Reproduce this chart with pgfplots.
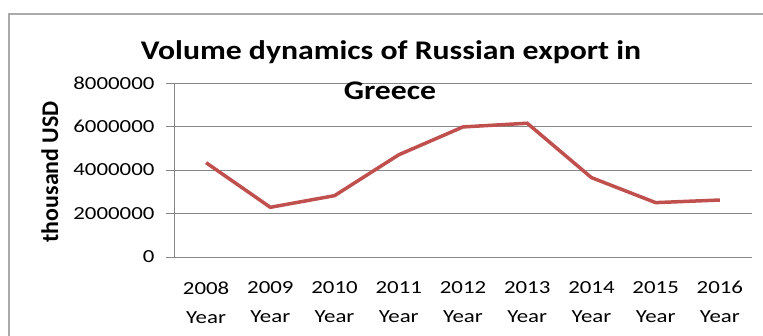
\documentclass[border=0pt]{standalone}
\usepackage{pgfplots}
\pgfplotsset{compat=1.18}
\usepackage{fontspec}
\setmainfont{Carlito}[FakeStretch=1.24]
\newfontfamily\ylabfont{Carlito}
\newfontfamily\titlefont{Carlito}[FakeStretch=1.18]
\definecolor{gridgray}{RGB}{134,134,134}
\definecolor{linered}{RGB}{192,80,77}
\definecolor{framegray}{RGB}{170,170,170}
\begin{document}
\begin{tikzpicture}
\begin{axis}[
  at={(0,0)}, anchor=south west,
  scale only axis, width=578bp, height=174bp,
  xmin=-0.5, xmax=8.5, ymin=0, ymax=8000000,
  xtick={0,...,8},
  xticklabels={{2008\\Year},{2009\\Year},{2010\\Year},{2011\\Year},{2012\\Year},{2013\\Year},{2014\\Year},{2015\\Year},{2016\\Year}},
  xticklabel style={align=center, font=\fontsize{18.5}{29}\selectfont, yshift=-13bp},
  major x tick style={draw=none},
  ytick={0,2000000,4000000,6000000,8000000},
  yticklabels={0,2000000,4000000,6000000,8000000},
  yticklabel style={font=\fontsize{18.5}{22}\selectfont, xshift=-8bp},
  scaled y ticks=false,
  /pgf/number format/assume math mode=true,
  ymajorgrids, grid style={gridgray, line width=0.8bp},
  major y tick style={gridgray, line width=0.8bp},
  tick align=outside, major tick length=8bp,
  axis x line*=bottom, axis y line*=left,
  axis line style={gridgray, line width=0.8bp, -},
  x axis line style={shorten <=-8bp},
  ylabel={thousand USD},
  ylabel style={font=\ylabfont\fontsize{24}{28}\selectfont\bfseries, at={(axis description cs:-0.215,0.49)}, anchor=center, rotate=0},
  clip=false,
]
\addplot[linered, line width=3.5bp] coordinates {
 (0,4335000) (1,2285000) (2,2820000) (3,4700000) (4,5980000)
 (5,6150000) (6,3650000) (7,2500000) (8,2620000)};
\end{axis}
\node[anchor=base, font=\titlefont\fontsize{27}{38}\selectfont\bfseries] at (217bp,197.5bp) {Volume dynamics of Russian export in};
\node[anchor=base, font=\titlefont\fontsize{27}{38}\selectfont\bfseries] at (216bp,157bp) {Greece};
\draw[framegray, line width=1.2bp] (-165bp,-100bp) -- (-165bp,243bp) -- (620bp,243bp);
\pgfresetboundingbox
\useasboundingbox (-174bp,-79bp) rectangle (589bp,257bp);
\end{tikzpicture}
\end{document}
